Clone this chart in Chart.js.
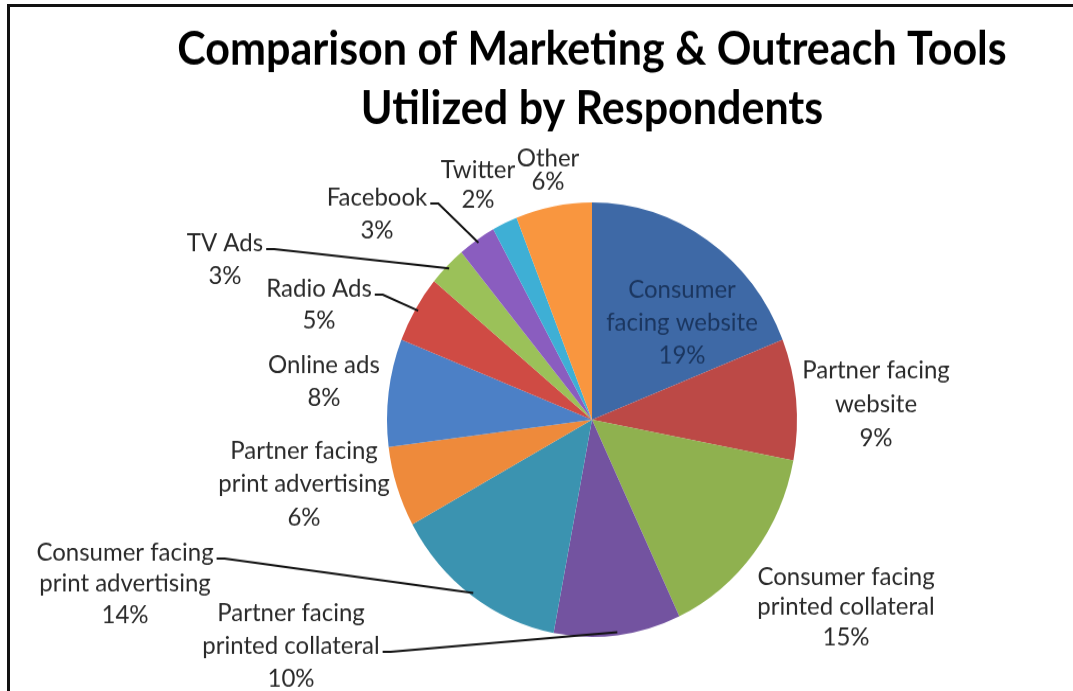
<!DOCTYPE html>
<html>
<head>
<meta charset="utf-8">
<title>Marketing & Outreach Tools</title>
<script src="https://cdn.jsdelivr.net/npm/chart.js@4.4.1/dist/chart.umd.min.js"></script>
<style>
  html, body { margin: 0; padding: 0; background: #fff; }
  #page { position: relative; width: 1073px; height: 691px; overflow: hidden; }
  /* the chart was exported slightly taller than wide, so stretch the canvas a bit */
  #stretch { position: absolute; left: 0; top: 0; width: 1073px; height: 652px;
             transform: scale(1, 1.0598); transform-origin: 0 0; }
  .rule { position: absolute; background: #111; }
</style>
</head>
<body>
<div id="page">
  <div id="stretch"><canvas id="pie" width="1073" height="652"></canvas></div>
  <div class="rule" style="left:7px; top:4px; width:3px; height:687px"></div>
  <div class="rule" style="left:7px; top:4px; width:1066px; height:3px"></div>
</div>
<script>
const titleLines = ['Comparison of Marketing & Outreach Tools', 'Utilized by Respondents'];

const categories = [
  'Consumer facing website',
  'Partner facing website',
  'Consumer facing printed collateral',
  'Partner facing printed collateral',
  'Consumer facing print advertising',
  'Partner facing print advertising',
  'Online ads',
  'Radio Ads',
  'TV Ads',
  'Facebook',
  'Twitter',
  'Other'
];

const shares = [19, 9, 15, 10, 14, 6, 8, 5, 3, 3, 2, 6];

// how each category name wraps in its callout
const labelLines = [
  ['Consumer', 'facing website'],
  ['Partner facing', 'website'],
  ['Consumer facing', 'printed collateral'],
  ['Partner facing', 'printed collateral'],
  ['Consumer facing', 'print advertising'],
  ['Partner facing', 'print advertising'],
  ['Online ads'],
  ['Radio Ads'],
  ['TV Ads'],
  ['Facebook'],
  ['Twitter'],
  ['Other']
];

const sliceColors = [
  '#3e69a6', '#bc4946', '#8fb14f', '#7353a0', '#3b93b0', '#ee8a3b',
  '#4c80c6', '#cf4b44', '#9bc159', '#8a5dbf', '#3eafd5', '#f9963f'
];

// callout placement relative to the pie centre; leader = line index the connector starts from
const calloutLayout = [
  { dx: 90,   dy: -123, gap: 31,   inside: true },
  { dx: 284,  dy: -47,  gap: 32 },
  { dx: 254,  dy: 148,  gap: 28.5 },
  { dx: -301, dy: 182,  gap: 31,   leader: 1 },
  { dx: -467, dy: 125,  gap: 29.5, leader: 0 },
  { dx: -288, dy: 29,   gap: 31.5 },
  { dx: -268, dy: -52,  gap: 31 },
  { dx: -273, dy: -124, gap: 30,   leader: 0 },
  { dx: -367, dy: -167, gap: 31,   leader: 0 },
  { dx: -215, dy: -210, gap: 31,   leader: 0 },
  { dx: -114, dy: -236, gap: 28 },
  { dx: -44,  dy: -247, gap: 22.5 }
];

const labelFont = '24px Lato, "Open Sans", sans-serif';
const titleFont = 'bold 43px Lato, "Open Sans", sans-serif';

// two-line heading, centred over the pie
const heading = {
  id: 'heading',
  afterDraw(chart) {
    const ctx = chart.ctx;
    const x = (chart.chartArea.left + chart.chartArea.right) / 2;
    ctx.save();
    ctx.font = titleFont;
    ctx.fillStyle = '#000';
    ctx.textAlign = 'center';
    ctx.textBaseline = 'middle';
    titleLines.forEach((t, k) => ctx.fillText(t, x, 47 + k * 56));
    ctx.restore();
  }
};

const callouts = {
  id: 'callouts',
  afterDatasetsDraw(chart) {
    const ctx = chart.ctx;
    const arcs = chart.getDatasetMeta(0).data;
    arcs.forEach((arc, i) => {
      const p = arc.getProps(['x', 'y', 'startAngle', 'endAngle', 'outerRadius'], true);
      const spot = calloutLayout[i];
      const lines = labelLines[i].concat(shares[i] + '%');
      const cx = p.x + spot.dx;
      const cy = p.y + spot.dy;

      ctx.save();
      ctx.font = labelFont;
      ctx.textAlign = 'center';
      ctx.textBaseline = 'middle';
      ctx.fillStyle = spot.inside ? '#1b365f' : '#2a2a2a';
      lines.forEach((t, k) => ctx.fillText(t, cx, cy + k * spot.gap));

      if (spot.leader !== undefined) {
        const k = spot.leader;
        const w = ctx.measureText(lines[k]).width;
        const sx = cx + w / 2 + 3;
        const sy = cy + k * spot.gap + 6;
        const mid = (p.startAngle + p.endAngle) / 2;
        const ex = p.x + Math.cos(mid) * (p.outerRadius - 3);
        const ey = p.y + Math.sin(mid) * (p.outerRadius - 3);
        ctx.strokeStyle = '#111';
        ctx.lineWidth = 2;
        ctx.beginPath();
        ctx.moveTo(sx, sy);
        ctx.lineTo(sx + 8, sy);
        ctx.lineTo(ex, ey);
        ctx.stroke();
      }
      ctx.restore();
    });
  }
};

new Chart(document.getElementById('pie'), {
  type: 'pie',
  data: {
    labels: categories,
    datasets: [{
      data: shares,
      backgroundColor: sliceColors,
      borderWidth: 0
    }]
  },
  options: {
    responsive: false,
    animation: false,
    layout: { padding: { left: 387, right: 276, top: 191, bottom: 51 } },
    plugins: {
      legend: { display: false },
      tooltip: { enabled: false },
      title: { display: false }
    }
  },
  plugins: [callouts, heading]
});
</script>
</body>
</html>
